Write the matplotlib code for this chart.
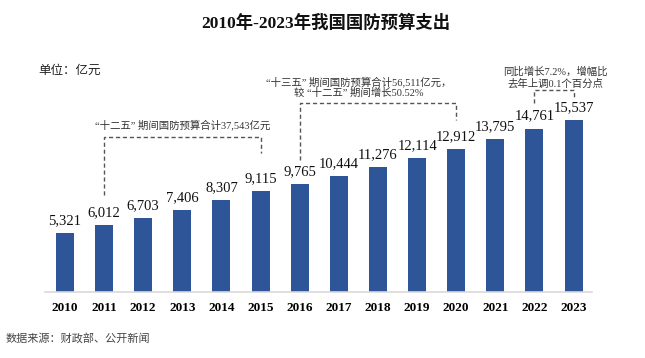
import matplotlib.pyplot as plt

years = ['2010', '2011', '2012', '2013', '2014', '2015', '2016',
         '2017', '2018', '2019', '2020', '2021', '2022', '2023']
budget = [5321, 6012, 6703, 7406, 8307, 9115, 9765,
          10444, 11276, 12114, 12912, 13795, 14761, 15537]

title = '2010年-2023年我国国防预算支出'
unit = '单位：亿元'
source = '数据来源：财政部、公开新闻'
note_125 = '“十二五” 期间国防预算合计37,543亿元'
note_135 = ['“十三五” 期间国防预算合计56,511亿元，', '较 “十二五” 期间增长50.52%']
note_23 = ['同比增长7.2%，增幅比', '去年上调0.1个百分点']

serif = ['Liberation Serif', 'Noto Sans CJK SC']
bar_color = '#2E5597'
dash_color = '#555555'
note_color = '#333333'

fig = plt.figure(figsize=(6.45, 3.58), dpi=100)
W, H = 645, 358
# axes placed in pixel terms: baseline at y=292, left 45, right 592
ax = fig.add_axes([45 / W, (H - 292) / H, (592 - 45) / W, (292 - 20) / H])
x = list(range(len(years)))
ax.bar(x, budget, width=0.46, color=bar_color)
ax.set_xlim(-0.51, 13.47)
ax.set_ylim(0, 24570)

for xi, v in zip(x, budget):
    ax.text(xi, v + 550, f'{v:,}', ha='center', va='bottom',
            fontsize=10.5, family=serif, color='#111111')

ax.set_xticks(x)
ax.set_xticklabels(years, family=serif, fontweight='bold', fontsize=9.5)
ax.tick_params(axis='x', length=0, pad=7)
ax.set_yticks([])
for s in ['top', 'right', 'left']:
    ax.spines[s].set_visible(False)
ax.spines['bottom'].set_color('#d9d9d9')
ax.spines['bottom'].set_linewidth(1.2)


def bracket(i0, i1, top, gap0, gap1):
    ax.plot([i0, i0, i1, i1],
            [budget[i0] + gap0, top, top, budget[i1] + gap1],
            ls=(0, (3, 2)), color=dash_color, lw=1)


def note(xc, y, s):
    ax.text(xc, y, s, ha='center', va='center', fontsize=7.5,
            family=serif, color=note_color)


# 十二五
bracket(1, 5, 14000, 2750, 3440)
note(3, 15080, note_125)
# 十三五
bracket(6, 10, 17070, 2150, 2620)
note(7.5, 18960, note_135[0])
note(7.5, 17970, note_135[1])
# 2023
bracket(12, 13, 18240, 2310, 1980)
note(12.53, 19870, note_23[0])
note(12.53, 18780, note_23[1])

fig.text(326 / W, 1 - 23 / H, title, ha='center', va='center',
         fontsize=12.5, fontweight='bold', family=serif, color='#111111')
fig.text(38 / W, 1 - 71 / H, unit, ha='left', va='center',
         fontsize=9, family=serif, color='#222222')
fig.text(6 / W, 1 - 338 / H, source, ha='left', va='center',
         fontsize=8, family=serif, color='#444444')

fig.savefig('out.png', dpi=100)
